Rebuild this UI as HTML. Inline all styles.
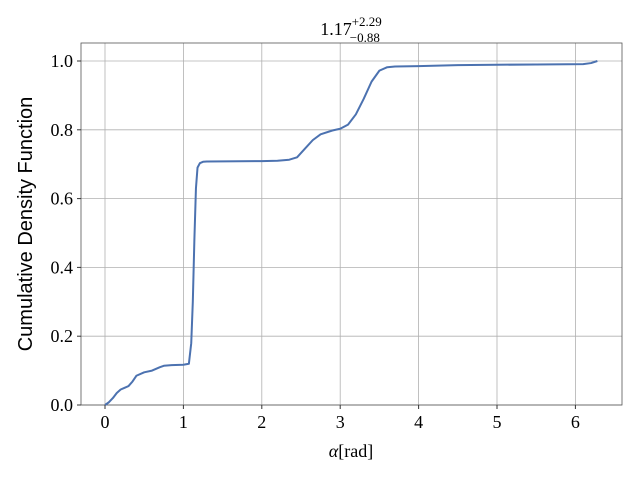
<!DOCTYPE html>
<html><head><meta charset="utf-8"><style>
body{margin:0;background:#fff;}
svg text{font-family:"Liberation Serif",serif;}
</style></head><body>
<svg width="640" height="480" xmlns="http://www.w3.org/2000/svg">
<rect width="640" height="480" fill="#fff"/>
<g id="grid"></g>
<rect x="81" y="43" width="541" height="362" fill="none" stroke="#555" stroke-width="0.8"/>
<g id="ticks"></g>
<polyline id="curve" fill="none" stroke="#4c72b0" stroke-width="2" stroke-linejoin="round"/>
<text x="351" y="35" text-anchor="middle" font-size="18">1.17<tspan font-size="13" dy="-9">+2.29</tspan><tspan font-size="13" dx="-32" dy="16">−0.88</tspan></text>
<text x="351" y="457" text-anchor="middle" font-size="18"><tspan font-style="italic">α</tspan>[rad]</text>
<text transform="translate(32,224) rotate(-90)" text-anchor="middle" font-size="20" style="font-family:'Liberation Sans',sans-serif">Cumulative Density Function</text>
</svg>
<script>
const xs=[0,0.05,0.1,0.15,0.2,0.25,0.3,0.35,0.4,0.5,0.6,0.7,0.75,0.85,1.0,1.07,1.1,1.12,1.14,1.16,1.18,1.21,1.25,1.3,2.0,2.2,2.35,2.45,2.55,2.65,2.75,2.9,3.0,3.1,3.2,3.3,3.4,3.5,3.6,3.7,4.0,4.5,5.0,5.5,6.1,6.2,6.28];
const ys=[0,0.008,0.02,0.035,0.045,0.05,0.055,0.068,0.085,0.095,0.1,0.11,0.114,0.116,0.117,0.12,0.18,0.3,0.48,0.63,0.69,0.703,0.707,0.708,0.709,0.71,0.713,0.72,0.745,0.77,0.787,0.798,0.803,0.815,0.845,0.89,0.94,0.972,0.982,0.984,0.985,0.988,0.989,0.99,0.991,0.994,1.0];
const xTicks=[0,1,2,3,4,5,6];
const yTicks=[0,0.2,0.4,0.6,0.8,1.0];
const X=v=>105+v*78.4, Y=v=>405-v*344;
const NS="http://www.w3.org/2000/svg";
const g=document.getElementById('grid'), t=document.getElementById('ticks');
function mk(tag,a,p){const e=document.createElementNS(NS,tag);for(const k in a)e.setAttribute(k,a[k]);p.appendChild(e);return e;}
xTicks.forEach(v=>{
 const l=mk('line',{x1:X(v),x2:X(v),y1:43,y2:405,stroke:'#b0b0b0','stroke-width':0.8},g);
 
 
 mk('line',{x1:X(v),x2:X(v),y1:405,y2:409,stroke:'#333'},t);
 const tx=mk('text',{x:X(v),y:428,'text-anchor':'middle','font-size':18},t);tx.textContent=v;
 
 
});
yTicks.forEach(v=>{
 const l=mk('line',{x1:81,x2:622,y1:Y(v),y2:Y(v),stroke:'#b0b0b0','stroke-width':0.8},g);
 
 
 mk('line',{x1:77,x2:81,y1:Y(v),y2:Y(v),stroke:'#333'},t);
 const tx=mk('text',{x:73,y:Y(v)+6,'text-anchor':'end','font-size':18},t);tx.textContent=v.toFixed(1);
 
 
});
document.getElementById('curve').setAttribute('points',xs.map((v,i)=>X(v)+','+Y(ys[i])).join(' '));
</script>
</body></html>
